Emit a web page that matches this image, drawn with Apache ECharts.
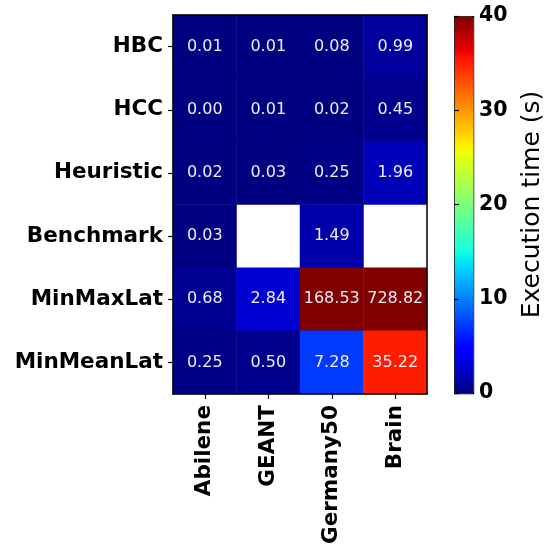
<!DOCTYPE html>
<html><head><meta charset="utf-8">
<script src="https://cdn.jsdelivr.net/npm/echarts@6/dist/echarts.min.js"></script>
<style>html,body{margin:0;padding:0;background:#fff}#c{width:548px;height:550px}</style>
</head><body><div id="c"></div>
<script>
const methods = ['HBC','HCC','Heuristic','Benchmark','MinMaxLat','MinMeanLat'];
const networks = ['Abilene','GEANT','Germany50','Brain'];
const abilene   = [0.01, 0.00, 0.02, 0.03, 0.68, 0.25];
const geant     = [0.01, 0.01, 0.03, null, 2.84, 0.50];
const germany50 = [0.08, 0.02, 0.25, 1.49, 168.53, 7.28];
const brain     = [0.99, 0.45, 1.96, null, 728.82, 35.22];
const colorbarTicks = [0, 10, 20, 30, 40];
const vmin = 0, vmax = 40;

// matplotlib 'jet' colormap
function seg(pts, t){
  for(let i=1;i<pts.length;i++){
    if(t<=pts[i][0]){const a=pts[i-1],b=pts[i];return a[1]+(b[1]-a[1])*(t-a[0])/(b[0]-a[0]);}
  }
  return pts[pts.length-1][1];
}
function jet(t){
  const r=seg([[0,0],[0.35,0],[0.66,1],[0.89,1],[1,0.5]],t);
  const g=seg([[0,0],[0.125,0],[0.375,1],[0.64,1],[0.91,0],[1,0]],t);
  const b=seg([[0,0.5],[0.11,1],[0.34,1],[0.65,0],[1,0]],t);
  const h=v=>Math.round(v*255).toString(16).padStart(2,'0');
  return '#'+h(r)+h(g)+h(b);
}
const jetColors=[];
for(let i=0;i<=100;i++) jetColors.push(jet(i/100));

const cols=[abilene,geant,germany50,brain];
const data=[];
cols.forEach((col,xi)=>col.forEach((v,yi)=>{
  if(v!==null) data.push([xi,yi,v,Math.min(v,vmax)]);
}));

const F='DejaVu Sans';
const chart=echarts.init(document.getElementById('c'),null,{renderer:'canvas'});
chart.setOption({
  animation:false,
  grid:[
    {left:173,top:15,width:254,height:379},
    {left:454,top:16,width:19,height:377}
  ],
  xAxis:[
    {type:'category',data:networks,gridIndex:0,position:'bottom',z:5,
     axisLine:{show:true,lineStyle:{color:'#000',width:1.5}},
     axisTick:{show:true,alignWithLabel:true,length:5,lineStyle:{color:'#000',width:1.2}},
     axisLabel:{rotate:90,fontFamily:F,fontWeight:'bold',fontSize:21.5,color:'#000',margin:11},
     splitLine:{show:false}},
    {type:'category',data:networks,gridIndex:0,position:'top',z:5,
     axisLine:{show:true,lineStyle:{color:'#000',width:1.5}},
     axisTick:{show:false},axisLabel:{show:false}},
    {type:'value',gridIndex:1,show:false}
  ],
  yAxis:[
    {type:'category',data:methods,inverse:true,gridIndex:0,position:'left',z:5,
     axisLine:{show:true,lineStyle:{color:'#000',width:1.5}},
     axisTick:{show:true,alignWithLabel:true,length:5,lineStyle:{color:'#000',width:1.2}},
     axisLabel:{fontFamily:F,fontWeight:'bold',fontSize:21.5,color:'#000',margin:10},
     splitLine:{show:false}},
    {type:'category',data:methods,inverse:true,gridIndex:0,position:'right',z:5,
     axisLine:{show:true,lineStyle:{color:'#000',width:1.5}},
     axisTick:{show:false},axisLabel:{show:false}},
    {type:'value',gridIndex:1,position:'right',min:vmin,max:vmax,interval:10,z:5,
     axisLine:{show:false},
     axisTick:{show:true,length:5,lineStyle:{color:'#000',width:1.2}},
     axisLabel:{fontFamily:F,fontWeight:'bold',fontSize:20.5,color:'#000',margin:6,
       formatter:v=>colorbarTicks.includes(v)?String(v):''},
     splitLine:{show:false},
     name:'Execution time (s)',nameLocation:'middle',nameGap:47,
     nameTextStyle:{fontFamily:F,fontSize:25,color:'#000'}}
  ],
  visualMap:{
    type:'continuous',min:vmin,max:vmax,dimension:3,seriesIndex:0,
    calculable:false,orient:'vertical',left:454,top:16,
    itemWidth:19,itemHeight:377,padding:0,text:null,
    borderColor:'#000',borderWidth:1.2,
    inRange:{color:jetColors}
  },
  series:[{
    type:'heatmap',xAxisIndex:0,yAxisIndex:0,data:data,
    encode:{x:0,y:1},
    label:{show:true,fontFamily:F,fontSize:16,color:'#ececf4',
      formatter:p=>p.data[2].toFixed(2)},
    itemStyle:{borderWidth:0},
    emphasis:{disabled:true}
  }]
});
</script></body></html>
